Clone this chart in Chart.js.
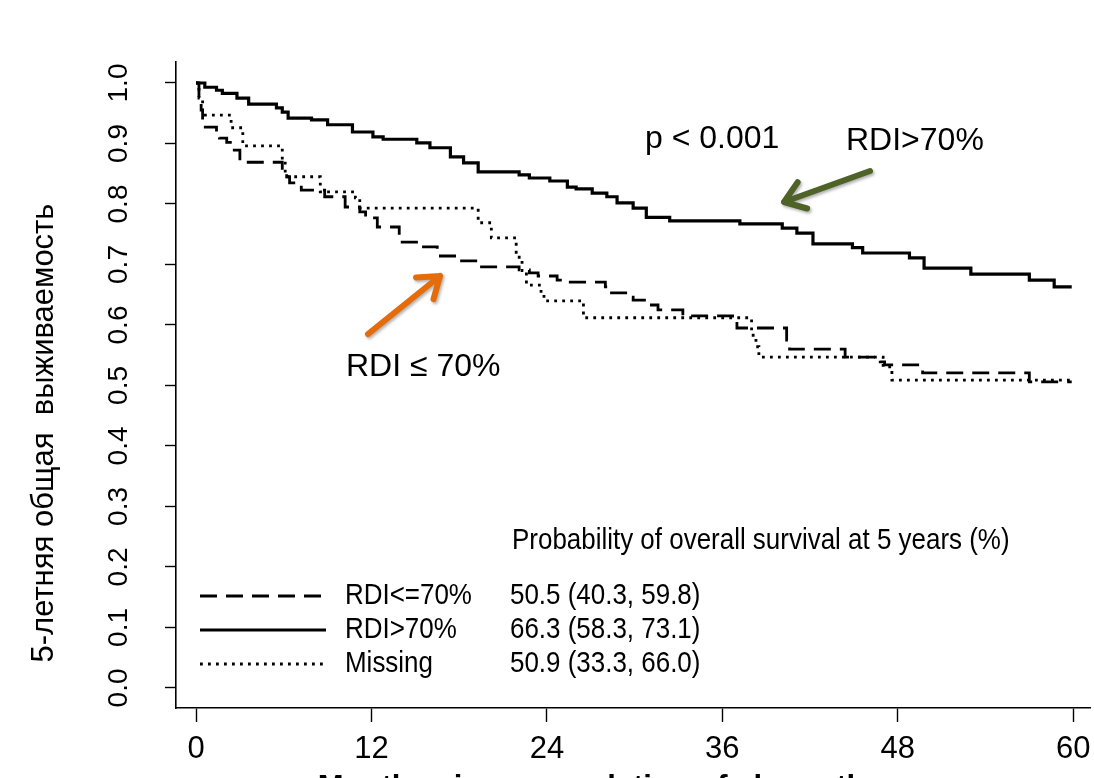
<!DOCTYPE html>
<html><head><meta charset="utf-8">
<script src="https://cdn.jsdelivr.net/npm/chart.js@4.4.1/dist/chart.umd.min.js"></script>
<style>html,body{margin:0;padding:0;background:#fff;overflow:hidden;width:1094px;height:778px}canvas{display:block}</style>
</head><body>
<canvas id="c" width="1094" height="820"></canvas>
<script>
// ---- data ----
const xTicks = [0, 12, 24, 36, 48, 60];
const yTicks = [0, 0.1, 0.2, 0.3, 0.4, 0.5, 0.6, 0.7, 0.8, 0.9, 1.0];

const seriesNames = ['RDI<=70%', 'RDI>70%', 'Missing'];
const fiveYear = ['50.5 (40.3, 59.8)', '66.3 (58.3, 73.1)', '50.9 (33.3, 66.0)'];
const legendTitle = 'Probability of overall survival at 5 years (%)';
const yTitle = '5-летняя общая  выживаемость';
const xTitle = 'Months since completion of chemotherapy';
const pText = 'p < 0.001';
const labelHigh = 'RDI>70%';
const labelLow = 'RDI ≤ 70%';

// RDI <= 70% (dashed)
const leMonths = [0, 0.2, 0.35, 0.45, 1.4, 1.6, 2.1, 2.5, 3.0, 5.9, 6.2, 6.4, 7.2, 8.8, 10.2, 11.2, 11.6, 12.4, 13.9, 14.1, 15.3, 16.5, 18.0, 19.4, 22.1, 22.8, 23.4, 24.7, 25.6, 28.0, 28.3, 29.7, 29.9, 30.8, 31.6, 33.3, 36.7, 37.0, 40.4, 40.6, 44.4, 46.8, 47.1, 49.7, 57.0, 59.9];
const leSurv   = [1, 0.975, 0.955, 0.927, 0.919, 0.909, 0.902, 0.889, 0.869, 0.853, 0.845, 0.835, 0.823, 0.812, 0.795, 0.787, 0.777, 0.762, 0.749, 0.737, 0.729, 0.714, 0.706, 0.696, 0.691, 0.686, 0.681, 0.674, 0.671, 0.663, 0.653, 0.646, 0.641, 0.633, 0.625, 0.615, 0.608, 0.595, 0.575, 0.560, 0.547, 0.539, 0.534, 0.521, 0.506, 0.506];

// RDI > 70% (solid)
const gtMonths = [0, 0.6, 1.4, 1.8, 2.8, 3.6, 5.5, 5.9, 6.3, 7.9, 9.0, 10.7, 12.1, 12.8, 15.1, 16.0, 17.4, 18.3, 19.3, 22.1, 22.8, 24.2, 25.4, 26.0, 27.1, 28.1, 28.8, 29.9, 30.8, 32.4, 37.2, 40.1, 41.1, 42.2, 44.9, 45.6, 48.8, 49.8, 53.0, 57.0, 58.7, 59.9];
const gtSurv   = [1, 0.993, 0.988, 0.983, 0.975, 0.965, 0.959, 0.952, 0.942, 0.939, 0.931, 0.919, 0.911, 0.907, 0.901, 0.893, 0.878, 0.868, 0.853, 0.848, 0.843, 0.838, 0.828, 0.825, 0.818, 0.812, 0.802, 0.793, 0.778, 0.772, 0.767, 0.760, 0.752, 0.734, 0.728, 0.719, 0.711, 0.694, 0.684, 0.674, 0.663, 0.663];

// Missing (dotted)
const missMonths = [0, 0.2, 0.45, 2.4, 3.2, 3.3, 5.9, 6.1, 8.5, 10.9, 11.2, 19.3, 20.2, 21.9, 22.3, 22.6, 23.6, 23.8, 26.5, 38.0, 38.3, 38.5, 47.0, 47.6, 59.9];
const missSurv   = [1, 0.975, 0.947, 0.926, 0.903, 0.896, 0.87, 0.845, 0.820, 0.81, 0.793, 0.769, 0.744, 0.712, 0.69, 0.666, 0.650, 0.640, 0.612, 0.583, 0.564, 0.547, 0.531, 0.509, 0.509];

// ---- chart ----
const SANS = "'Liberation Sans', Arial, sans-serif";
const toXY = (xs, ys) => xs.map((x, i) => ({x: x, y: ys[i]}));

function narrowText(ctx, s, x, y, sx) {
  ctx.save();
  ctx.translate(x, y);
  ctx.scale(sx, 1);
  ctx.fillText(s, 0, 0);
  ctx.restore();
}

function drawArrow(ctx, x1, y1, x2, y2, color) {
  const a = Math.atan2(y2 - y1, x2 - x1);
  const hl = 24, spread = 0.62;
  ctx.save();
  ctx.shadowColor = 'rgba(0,0,0,0.3)';
  ctx.shadowBlur = 3; ctx.shadowOffsetX = 1.5; ctx.shadowOffsetY = 2;
  ctx.strokeStyle = color; ctx.lineWidth = 6; ctx.lineCap = 'round'; ctx.lineJoin = 'round';
  ctx.beginPath();
  ctx.moveTo(x1, y1); ctx.lineTo(x2, y2);
  ctx.moveTo(x2 - hl * Math.cos(a - spread), y2 - hl * Math.sin(a - spread));
  ctx.lineTo(x2, y2);
  ctx.lineTo(x2 - hl * Math.cos(a + spread), y2 - hl * Math.sin(a + spread));
  ctx.stroke();
  ctx.restore();
}

const overlay = {
  id: 'overlay',
  afterDraw(chart) {
    const ctx = chart.ctx;
    const ds = chart.data.datasets;
    ctx.save();
    // y axis title
    ctx.save();
    ctx.translate(44, 433);
    ctx.rotate(-Math.PI / 2);
    ctx.fillStyle = '#000';
    ctx.font = '31px ' + SANS;
    ctx.textAlign = 'center'; ctx.textBaseline = 'middle';
    ctx.fillText(yTitle, 0, 0);
    ctx.restore();

    // legend
    ctx.fillStyle = '#000';
    ctx.font = '30px ' + SANS;
    ctx.textBaseline = 'middle'; ctx.textAlign = 'left';
    const sx = 0.865;
    narrowText(ctx, legendTitle, 512, 541, sx);
    const rows = [596, 630, 664];
    rows.forEach((ry, i) => {
      ctx.save();
      ctx.strokeStyle = ds[i].borderColor;
      ctx.lineWidth = ds[i].borderWidth;
      ctx.setLineDash(ds[i].borderDash || []);
      ctx.beginPath(); ctx.moveTo(200, ry); ctx.lineTo(326, ry); ctx.stroke();
      ctx.restore();
      narrowText(ctx, ds[i].label, 345, ry, sx);
      narrowText(ctx, fiveYear[i], 510, ry, sx);
    });

    // annotations
    ctx.font = '32px ' + SANS;
    ctx.fillText(pText, 645, 139);
    ctx.fillText(labelHigh, 846, 141);
    ctx.fillText(labelLow, 346, 367);

    drawArrow(ctx, 870, 171, 784, 202, '#4f6228');
    drawArrow(ctx, 368, 334, 440, 276, '#e46c0a');
    ctx.restore();
  }
};

new Chart(document.getElementById('c'), {
  type: 'line',
  data: {
    datasets: [
      {label: seriesNames[0], data: toXY(leMonths, leSurv), borderColor: '#000', borderWidth: 2.8, borderDash: [17, 9], stepped: 'before', pointRadius: 0, fill: false},
      {label: seriesNames[1], data: toXY(gtMonths, gtSurv), borderColor: '#000', borderWidth: 3.2, stepped: 'before', pointRadius: 0, fill: false},
      {label: seriesNames[2], data: toXY(missMonths, missSurv), borderColor: '#000', borderWidth: 2.8, borderDash: [2.8, 5.2], stepped: 'before', pointRadius: 0, fill: false}
    ]
  },
  options: {
    responsive: false,
    animation: false,
    events: [],
    layout: {padding: {top: 62, right: 4, left: 0, bottom: 0}},
    plugins: {legend: {display: false}, tooltip: {enabled: false}},
    scales: {
      x: {
        type: 'linear', min: -1.37, max: 61.15,
        afterBuildTicks: s => { s.ticks = xTicks.map(v => ({value: v})); },
        afterFit: s => { s.height = 112; s.paddingLeft = 0; s.paddingRight = 0; },
        grid: {display: true, drawOnChartArea: false, drawTicks: true, tickLength: 14, tickColor: '#000', tickWidth: 1.4},
        border: {display: true, color: '#000', width: 1.6},
        ticks: {color: '#000', font: {family: SANS, size: 31}, padding: 9, maxRotation: 0, autoSkip: false, callback: v => String(v)},
        title: {display: true, text: xTitle, color: '#000', font: {family: SANS, size: 31, weight: 'bold'}, padding: {top: 0, bottom: 13}}
      },
      y: {
        type: 'linear', min: -0.0331, max: 1.0347,
        afterBuildTicks: s => { s.ticks = yTicks.map(v => ({value: v})); },
        afterFit: s => { s.width = 176; s.paddingTop = 0; s.paddingBottom = 0; },
        grid: {display: true, drawOnChartArea: false, drawTicks: true, tickLength: 11, tickColor: '#000', tickWidth: 1.4},
        border: {display: true, color: '#000', width: 1.6},
        ticks: {color: '#000', font: {family: SANS, size: 28}, padding: 26, minRotation: 90, maxRotation: 90, crossAlign: 'center', autoSkip: false, callback: v => v.toFixed(1)}
      }
    }
  },
  plugins: [overlay]
});
</script>
</body></html>
